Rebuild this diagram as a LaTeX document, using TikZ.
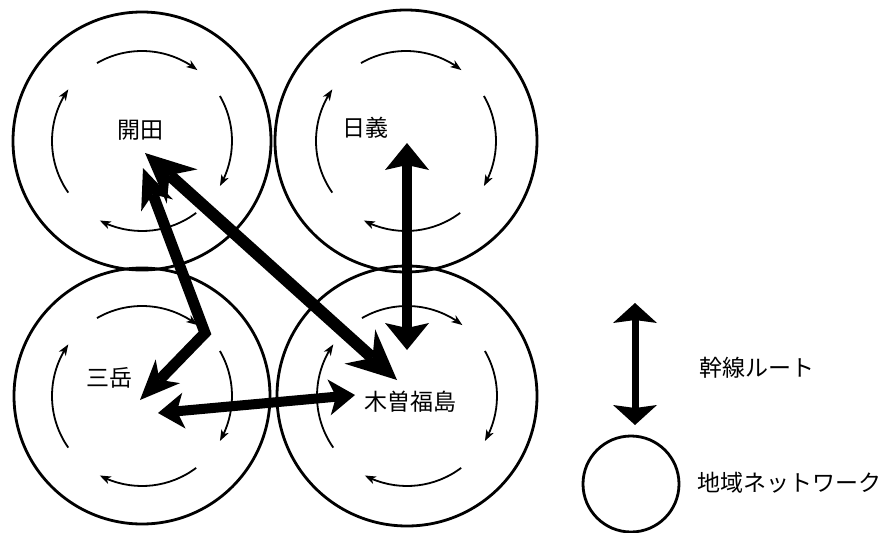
\documentclass[tikz,border=0pt]{standalone}
\usepackage{fontspec}
\setmainfont{Noto Sans CJK JP}
\usetikzlibrary{arrows.meta,bending,calc}
\begin{document}
\begin{tikzpicture}[x=1pt,y=1pt,
  netcircle/.style={draw, circle, line width=2.8pt, inner sep=0pt},
  ring/.style={line width=1.8pt, -{Stealth[length=11pt,width=8pt,inset=3pt,flex]}},
  lbl/.style={font=\fontsize{23}{23}\selectfont, inner sep=0pt},
  headA/.tip={Stealth[length=50pt,width=46pt,inset=17pt,line width=0pt]},
  headB/.tip={Stealth[length=27pt,width=44pt,inset=5pt,line width=0pt]},
  headC/.tip={Stealth[length=40pt,width=34pt,inset=12pt,line width=0pt]},
  headD/.tip={Stealth[length=26pt,width=36pt,inset=7pt,line width=0pt]},
  headL/.tip={Stealth[length=20pt,width=44pt,inset=3pt,line width=0pt]},
  trunkA/.style={line width=12pt, headA-headA},
  trunkB/.style={line width=10pt, headB-headB},
  trunkC/.style={line width=11pt, line join=miter, headC-headC},
  trunkD/.style={line width=10pt, headD-headD},
  trunkL/.style={line width=7pt, headL-headL}]
\useasboundingbox (0,0) rectangle (895,-533);
\fill[white] (0,0) rectangle (895,-533);

% network circles
\node[netcircle, minimum size=258pt] (kaida) at (142,-141) {};
\node[netcircle, minimum size=262pt] (hiyoshi) at (406,-141) {};
\node[netcircle, minimum size=256pt] (mitake) at (142,-396) {};
\node[netcircle, minimum size=260pt] (kiso) at (407,-396) {};

% circulating arcs
\foreach \c in {kaida,hiyoshi,mitake,kiso}{
  \draw[ring] ($(\c)+(120:90pt)$) arc[start angle=120, end angle=52, radius=90pt];
  \draw[ring] ($(\c)+(30:90pt)$) arc[start angle=30, end angle=-30, radius=90pt];
  \draw[ring] ($(\c)+(-53:90pt)$) arc[start angle=-53, end angle=-118, radius=90pt];
  \draw[ring] ($(\c)+(215:90pt)$) arc[start angle=215, end angle=145, radius=90pt];
}

% labels
\node[lbl] (tkaida) at (140,-130) {開田};
\node[lbl] (thiyoshi) at (365,-128) {日義};
\node[lbl] (tmitake) at (109,-378) {三岳};
\node[lbl] (tkiso) at (410,-402) {木曽福島};

% trunk route end points
\coordinate (a1) at (145,-153); \coordinate (a2) at (397,-380);
\coordinate (b1) at (407,-143); \coordinate (b2) at (407,-350);
\coordinate (c1) at (143,-168); \coordinate (cb) at (205,-333); \coordinate (c2) at (140,-400);
\coordinate (d1) at (158,-413); \coordinate (d2) at (355,-395);

\draw[trunkA] (a1) -- (a2);
\draw[trunkB] (b1) -- (b2);
\draw[trunkC] (c1) -- (cb) -- (c2);
\draw[trunkD] (d1) -- (d2);

% legend
\coordinate (l1) at (635,-303); \coordinate (l2) at (635,-425);
\draw[trunkL] (l1) -- (l2);
\node[netcircle, minimum size=96pt] (lcirc) at (631,-484) {};
\node[lbl, anchor=west] (ltrunk) at (699,-368) {幹線ルート};
\node[lbl, anchor=west] (lnet) at (697,-483) {地域ネットワーク};
\end{tikzpicture}
\end{document}
